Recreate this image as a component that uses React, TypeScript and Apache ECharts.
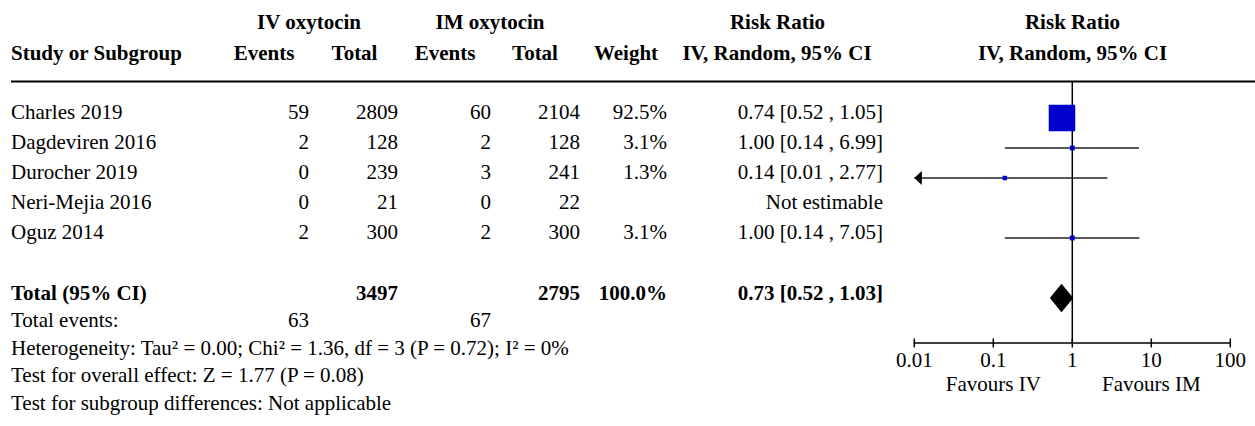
import { useEffect, useRef } from 'react';
import * as echarts from 'echarts';

// ---------- data ----------
const studies = ['Charles 2019', 'Dagdeviren 2016', 'Durocher 2019', 'Neri-Mejia 2016', 'Oguz 2014'];
const ivEvents = [59, 2, 0, 0, 2];
const ivTotal = [2809, 128, 239, 21, 300];
const imEvents = [60, 2, 3, 0, 2];
const imTotal = [2104, 128, 241, 22, 300];
const weights: (number | null)[] = [92.5, 3.1, 1.3, null, 3.1];
const riskRatio: (number | null)[] = [0.74, 1.0, 0.14, null, 1.0];
const ciLower: (number | null)[] = [0.52, 0.14, 0.01, null, 0.14];
const ciUpper: (number | null)[] = [1.05, 6.99, 2.77, null, 7.05];

const totalIvTotal = 3497;
const totalImTotal = 2795;
const totalWeight = 100.0;
const totalRR = 0.73;
const totalLower = 0.52;
const totalUpper = 1.03;
const totalIvEvents = 63;
const totalImEvents = 67;

const heterogeneityText = 'Heterogeneity: Tau² = 0.00; Chi² = 1.36, df = 3 (P = 0.72); I² = 0%';
const overallEffectText = 'Test for overall effect: Z = 1.77 (P = 0.08)';
const subgroupText = 'Test for subgroup differences: Not applicable';

const tickValues = [0.01, 0.1, 1, 10, 100];
const tickLabels = ['0.01', '0.1', '1', '10', '100'];
const favoursValues = [0.1, 10];
const favoursLabels = ['Favours IV', 'Favours IM'];

// ---------- layout ----------
const FONT = '"Liberation Serif", "Times New Roman", serif';
const FS = 21;
const TOTAL_ROW = 6;
const X_MIN = 0.01;
const X_MAX = 100;
const Y_MIN = -1.2;
const Y_MAX = 7.5;

const colRight = { ivE: 309, ivT: 398, imE: 491, imT: 580, w: 667, rr: 883 };
const rowMid = (i: number) => 111.5 + 30 * i;

function txt(text: string, x: number, y: number, align: string, bold = false) {
  return {
    type: 'text',
    x,
    y,
    silent: true,
    style: {
      text,
      fill: '#000',
      font: `${bold ? 'bold ' : ''}${FS}px ${FONT}`,
      align,
      textAlign: align,
      verticalAlign: 'middle',
      textVerticalAlign: 'middle',
    },
  };
}

const fmtRR = (e: number, l: number, u: number) => `${e.toFixed(2)} [${l.toFixed(2)} , ${u.toFixed(2)}]`;

export default function App() {
  const ref = useRef<HTMLDivElement>(null);

  useEffect(() => {
    const chart = echarts.init(ref.current!, null, { renderer: 'svg' });

    const graphics: any[] = [];
    // headers
    const h1 = 21.5;
    const h2 = 53;
    graphics.push(txt('IV oxytocin', 309, h1, 'center', true));
    graphics.push(txt('IM oxytocin', 490, h1, 'center', true));
    graphics.push(txt('Risk Ratio', 777.5, h1, 'center', true));
    graphics.push(txt('Risk Ratio', 1072.5, h1, 'center', true));
    graphics.push(txt('Study or Subgroup', 11, h2, 'left', true));
    graphics.push(txt('Events', 264, h2, 'center', true));
    graphics.push(txt('Total', 354.5, h2, 'center', true));
    graphics.push(txt('Events', 445, h2, 'center', true));
    graphics.push(txt('Total', 535, h2, 'center', true));
    graphics.push(txt('Weight', 626, h2, 'center', true));
    graphics.push(txt('IV, Random, 95% CI', 777, h2, 'center', true));
    graphics.push(txt('IV, Random, 95% CI', 1072.5, h2, 'center', true));
    graphics.push({
      type: 'line',
      silent: true,
      shape: { x1: 11, y1: 81.5, x2: 1255, y2: 81.5 },
      style: { stroke: '#000', lineWidth: 2 },
    });

    // study rows
    studies.forEach((s, i) => {
      const y = rowMid(i);
      graphics.push(txt(s, 11, y, 'left'));
      graphics.push(txt(String(ivEvents[i]), colRight.ivE, y, 'right'));
      graphics.push(txt(String(ivTotal[i]), colRight.ivT, y, 'right'));
      graphics.push(txt(String(imEvents[i]), colRight.imE, y, 'right'));
      graphics.push(txt(String(imTotal[i]), colRight.imT, y, 'right'));
      const w = weights[i];
      if (w != null) graphics.push(txt(`${w.toFixed(1)}%`, colRight.w, y, 'right'));
      const e = riskRatio[i];
      const l = ciLower[i];
      const u = ciUpper[i];
      graphics.push(
        txt(e != null && l != null && u != null ? fmtRR(e, l, u) : 'Not estimable', colRight.rr, y, 'right'),
      );
    });

    // total rows
    const yT = 292.5;
    graphics.push(txt('Total (95% CI)', 11, yT, 'left', true));
    graphics.push(txt(String(totalIvTotal), colRight.ivT, yT, 'right', true));
    graphics.push(txt(String(totalImTotal), colRight.imT, yT, 'right', true));
    graphics.push(txt(`${totalWeight.toFixed(1)}%`, colRight.w, yT, 'right', true));
    graphics.push(txt(fmtRR(totalRR, totalLower, totalUpper), colRight.rr, yT, 'right', true));
    const yE = 320;
    graphics.push(txt('Total events:', 11, yE, 'left'));
    graphics.push(txt(String(totalIvEvents), colRight.ivE, yE, 'right'));
    graphics.push(txt(String(totalImEvents), colRight.imE, yE, 'right'));
    graphics.push(txt(heterogeneityText, 11, 347.5, 'left'));
    graphics.push(txt(overallEffectText, 11, 375, 'left'));
    graphics.push(txt(subgroupText, 11, 403, 'left'));

    const studyData = studies
      .map((_, i) => [i, riskRatio[i], ciLower[i], ciUpper[i], weights[i]])
      .filter((d) => d[1] != null);

    const option: any = {
      animation: false,
      backgroundColor: '#fff',
      grid: { left: 914.3, width: 316, top: 82, height: 261 },
      xAxis: {
        type: 'log',
        logBase: 10,
        min: X_MIN,
        max: X_MAX,
        position: 'bottom',
        axisLine: { show: true, onZero: false, lineStyle: { color: '#000', width: 1.5 } },
        axisTick: { show: false },
        splitLine: { show: false },
        axisLabel: {
          show: true,
          color: '#000',
          fontFamily: FONT,
          fontSize: FS,
          margin: 6,
          formatter: (v: number) => {
            const k = tickValues.findIndex((t) => Math.abs(Math.log10(t) - Math.log10(v)) < 1e-6);
            return k >= 0 ? tickLabels[k] : '';
          },
        },
      },
      yAxis: { type: 'value', min: Y_MIN, max: Y_MAX, inverse: true, show: false },
      graphic: graphics,
      series: [
        // null-effect vertical line
        {
          type: 'custom',
          silent: true,
          data: [[1]],
          encode: { x: 0 },
          renderItem: (_p: any, api: any) => {
            const a = api.coord([api.value(0), Y_MIN]);
            const b = api.coord([api.value(0), Y_MAX]);
            return {
              type: 'line',
              shape: { x1: a[0], y1: a[1] - 0.5, x2: b[0], y2: b[1] },
              style: { stroke: '#000', lineWidth: 1.5 },
            };
          },
        },
        // axis ticks crossing the axis line
        {
          type: 'custom',
          silent: true,
          data: tickValues.map((v) => [v]),
          encode: { x: 0 },
          renderItem: (_p: any, api: any) => {
            const c = api.coord([api.value(0), Y_MAX]);
            return {
              type: 'line',
              shape: { x1: c[0], y1: c[1] - 4.5, x2: c[0], y2: c[1] + 4.5 },
              style: { stroke: '#000', lineWidth: 1.5 },
            };
          },
        },
        // favours labels
        {
          type: 'custom',
          silent: true,
          data: favoursValues.map((v, i) => [v, i]),
          encode: { x: 0 },
          renderItem: (_p: any, api: any) => {
            const c = api.coord([api.value(0), Y_MAX]);
            const t = favoursLabels[api.value(1)];
            return {
              type: 'text',
              x: c[0],
              y: c[1] + 40.5,
              style: {
                text: t,
                fill: '#000',
                font: `${FS}px ${FONT}`,
                align: 'center',
                textAlign: 'center',
                verticalAlign: 'middle',
                textVerticalAlign: 'middle',
              },
            };
          },
        },
        // studies: CI lines + squares
        {
          type: 'custom',
          silent: true,
          data: studyData,
          encode: { x: [1, 2, 3], y: 0 },
          renderItem: (_p: any, api: any) => {
            const row = api.value(0);
            const est = api.value(1);
            const lo = api.value(2);
            const hi = api.value(3);
            const w = api.value(4);
            const loC = Math.max(lo, X_MIN);
            const hiC = Math.min(hi, X_MAX);
            const pL = api.coord([loC, row]);
            const pH = api.coord([hiC, row]);
            const pE = api.coord([est, row]);
            const children: any[] = [
              {
                type: 'line',
                shape: { x1: pL[0], y1: pL[1], x2: pH[0], y2: pH[1] },
                style: { stroke: '#222', lineWidth: 1.3 },
              },
            ];
            if (lo <= X_MIN) {
              children.push({
                type: 'polygon',
                shape: { points: [[pL[0], pL[1]], [pL[0] + 7.5, pL[1] - 7], [pL[0] + 7.5, pL[1] + 7]] },
                style: { fill: '#000' },
              });
            }
            if (hi >= X_MAX) {
              children.push({
                type: 'polygon',
                shape: { points: [[pH[0], pH[1]], [pH[0] - 7.5, pH[1] - 7], [pH[0] - 7.5, pH[1] + 7]] },
                style: { fill: '#000' },
              });
            }
            const size = Math.max(4.5, 26.5 * Math.sqrt(w / 92.5));
            children.push({
              type: 'rect',
              shape: { x: pE[0] - size / 2, y: pE[1] - size / 2, width: size, height: size },
              style: { fill: '#0000cc' },
            });
            return { type: 'group', children };
          },
        },
        // total diamond
        {
          type: 'custom',
          silent: true,
          data: [[TOTAL_ROW, totalRR, totalLower, totalUpper]],
          encode: { x: [1, 2, 3], y: 0 },
          renderItem: (_p: any, api: any) => {
            const row = api.value(0);
            const pE = api.coord([api.value(1), row]);
            const pL = api.coord([api.value(2), row]);
            const pH = api.coord([api.value(3), row]);
            return {
              type: 'polygon',
              shape: {
                points: [
                  [pL[0], pL[1]],
                  [pE[0], pE[1] - 14.2],
                  [pH[0], pH[1]],
                  [pE[0], pE[1] + 14.2],
                ],
              },
              style: { fill: '#000' },
            };
          },
        },
      ],
    };

    chart.setOption(option);
    return () => chart.dispose();
  }, []);

  return <div ref={ref} style={{ position: 'absolute', left: 0, top: 0, width: 1255, height: 426 }} />;
}
